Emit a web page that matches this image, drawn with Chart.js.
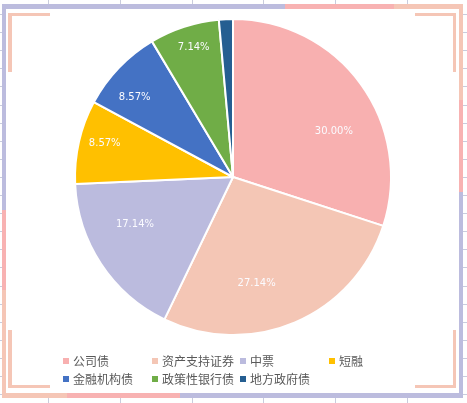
<!DOCTYPE html>
<html><head><meta charset="utf-8">
<script src="https://cdn.jsdelivr.net/npm/chart.js@4"></script>
<style>
html,body{margin:0;padding:0;background:#fff;}
#wrap{position:relative;width:467px;height:403px;overflow:hidden;}
#c{position:absolute;left:0;top:0;}
.lg{position:absolute;font:12px "Noto Sans CJK SC",sans-serif;color:#595959;white-space:nowrap;line-height:14px;}
.lg i{position:absolute;left:0;top:4px;width:6px;height:6px;}
.lg span{position:absolute;left:10px;top:0;}
</style></head>
<body><div id="wrap"><canvas id="c" width="467" height="403"></canvas><div id="legend"></div></div>
<script>
const categories = ["公司债","资产支持证券","中票","短融","金融机构债","政策性银行债","地方政府债"];
const shares = [30.00, 27.14, 17.14, 8.57, 8.57, 7.14, 1.43];
const colors = ["#F8B0B0","#F4C6B5","#BBBBDE","#FFC000","#4472C4","#70AD47","#255E91"];
// label placement tweaks (degrees shift, radius fraction); null = label hidden (as in the source)
const labelShift = [11.8, 10.6, 7.5, 2, -4.8, 1.2, null];
const labelFrac = [0.70, 0.69, 0.69, 0.84, 0.80, 0.86, null];

const frame = {
  id:'frame',
  beforeDraw(chart){
    const ctx = chart.ctx;
    ctx.save();
    ctx.fillStyle = '#fff'; ctx.fillRect(0,0,467,403);
    ctx.strokeStyle = '#C9CCDD'; ctx.lineWidth = 1;
    for (let x of [48,120,192,263,335,407]) {
      ctx.beginPath(); ctx.moveTo(x+0.5,0); ctx.lineTo(x+0.5,4); ctx.moveTo(x+0.5,398); ctx.lineTo(x+0.5,403); ctx.stroke();
    }
    for (let y = 14; y < 403; y += 18.1) {
      const yy = Math.round(y)+0.5;
      ctx.beginPath(); ctx.moveTo(0,yy); ctx.lineTo(2,yy); ctx.moveTo(463,yy); ctx.lineTo(467,yy); ctx.stroke();
    }
    const L='#BCBCDE', P='#F8B2B2', C='#F5C6B6';
    ctx.fillStyle=L; ctx.fillRect(2,4,283,5);
    ctx.fillStyle=P; ctx.fillRect(285,4,109,5);
    ctx.fillStyle=C; ctx.fillRect(394,4,69,5);
    ctx.fillStyle=C; ctx.fillRect(459,4,4,96);
    ctx.fillStyle=P; ctx.fillRect(459,100,4,92);
    ctx.fillStyle=L; ctx.fillRect(459,192,4,206);
    ctx.fillStyle=C; ctx.fillRect(2,393,65,5);
    ctx.fillStyle=P; ctx.fillRect(67,393,113,5);
    ctx.fillStyle=L; ctx.fillRect(180,393,283,5);
    ctx.fillStyle=L; ctx.fillRect(2,4,4,206);
    ctx.fillStyle=P; ctx.fillRect(2,210,4,80);
    ctx.fillStyle=C; ctx.fillRect(2,290,4,108);
    ctx.fillStyle=C;
    ctx.fillRect(8,13,42,3); ctx.fillRect(8,13,4,59);
    ctx.fillRect(415,13,41,3); ctx.fillRect(453,13,3,59);
    ctx.fillRect(8,385,42,3); ctx.fillRect(8,330,4,58);
    ctx.fillRect(415,385,41,3); ctx.fillRect(453,330,3,58);
    ctx.restore();
  }
};
const labels = {
  id:'labels',
  afterDatasetsDraw(chart){
    const ctx = chart.ctx;
    const meta = chart.getDatasetMeta(0);
    ctx.save();
    ctx.font = '10px "DejaVu Sans"';
    ctx.fillStyle = '#FBFBFF';
    ctx.textAlign = 'center'; ctx.textBaseline = 'middle';
    meta.data.forEach((arc,i)=>{
      if (labelFrac[i] === null) return;
      const p = arc.getProps(['x','y','startAngle','endAngle','outerRadius'], true);
      const a = (p.startAngle+p.endAngle)/2 + labelShift[i]*Math.PI/180;
      const r = p.outerRadius*labelFrac[i];
      ctx.fillText(shares[i].toFixed(2)+'%', p.x+Math.cos(a)*r, p.y+Math.sin(a)*r);
    });
    ctx.restore();
  }
};
new Chart(document.getElementById('c'), {
  type:'pie',
  data:{labels:categories, datasets:[{data:shares, backgroundColor:colors, borderColor:'#fff', borderWidth:2}]},
  options:{
    responsive:false, animation:false,
    layout:{padding:{left:74,right:75,top:18,bottom:67}},
    plugins:{legend:{display:false}, tooltip:{enabled:false}}
  },
  plugins:[frame, labels]
});
const cols=[63,152,240,329], rows=[354,372];
const lg=document.getElementById('legend');
categories.forEach((c,i)=>{
  const d=document.createElement('div'); d.className='lg';
  d.style.left=cols[i<4?i:i-4]+'px'; d.style.top=rows[i<4?0:1]+'px';
  d.innerHTML='<i style="background:'+colors[i]+'"></i><span>'+c+'</span>';
  lg.appendChild(d);
});
</script></body></html>
